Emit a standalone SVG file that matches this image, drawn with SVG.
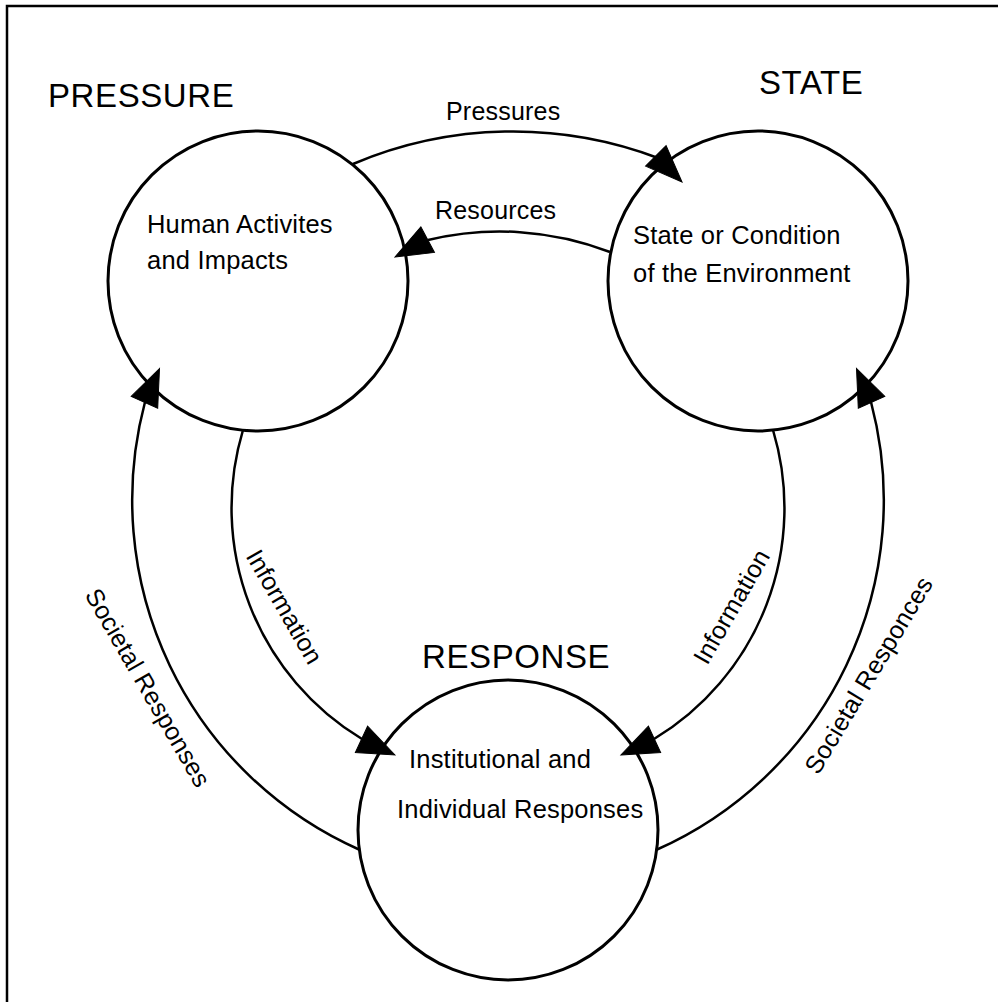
<svg xmlns="http://www.w3.org/2000/svg" xmlns:xlink="http://www.w3.org/1999/xlink" width="998" height="1002" viewBox="0 0 998 1002">
<style>
.node{fill:#fff;stroke:#000;stroke-width:3}
.conn{fill:none;stroke:#000;stroke-width:2.5}
.head{fill:#000;stroke:#000;stroke-width:1}
.title{font-family:"Liberation Sans",Arial,Helvetica,sans-serif;font-size:33px;letter-spacing:0.6px;fill:#000}
.lbl{font-family:"Liberation Sans",Arial,Helvetica,sans-serif;font-size:25px;letter-spacing:0.2px;fill:#000}
.body{font-family:"Liberation Sans",Arial,Helvetica,sans-serif;font-size:25.5px;letter-spacing:0.2px;fill:#000}
</style>
<defs>
<path id="ah" class="head" d="M0,0 L-37,-14.5 L-37,14.5 Z"/>
</defs>
<rect x="0" y="0" width="998" height="1002" fill="#fff"/>
<path d="M7,1002 V6 H998" fill="none" stroke="#000" stroke-width="2.5"/>

<g id="pressure">
<circle class="node" cx="258" cy="281" r="150"/>
<text class="title" x="48" y="107">PRESSURE</text>
<text class="body" x="147" y="233">Human Activites</text>
<text class="body" x="147" y="269">and Impacts</text>
</g>

<g id="state">
<circle class="node" cx="758" cy="281" r="150"/>
<text class="title" x="759" y="94">STATE</text>
<text class="body" x="633" y="244">State or Condition</text>
<text class="body" x="633" y="282">of the Environment</text>
</g>

<g id="response">
<circle class="node" cx="508" cy="830" r="150"/>
<text class="title" x="422" y="668">RESPONSE</text>
<text class="body" x="409" y="768">Institutional and</text>
<text class="body" x="397" y="818">Individual Responses</text>
</g>

<g id="connectors">
<path class="conn" d="M353,164 A410,410 0 0 1 658,158"/>
<use xlink:href="#ah" transform="translate(682,182) rotate(45)"/>
<text class="lbl" x="446" y="120">Pressures</text>

<path class="conn" d="M610,252 A307,307 0 0 0 428,240"/>
<use xlink:href="#ah" transform="translate(395,257) rotate(152)"/>
<text class="lbl" x="435" y="219">Resources</text>

<path class="conn" d="M360,850 A382.5,382.5 0 0 1 145,402"/>
<use xlink:href="#ah" transform="translate(159.5,368.5) rotate(-66)"/>
<text class="lbl" text-anchor="middle" transform="translate(140.5,692) rotate(60)">Societal Responses</text>

<path class="conn" d="M656,850 A382.5,382.5 0 0 0 871,402"/>
<use xlink:href="#ah" transform="translate(856.5,368.5) rotate(-114)"/>
<text class="lbl" text-anchor="middle" transform="translate(876,679.5) rotate(-59)">Societal Responces</text>

<path class="conn" d="M243,430 A270,270 0 0 0 362,739"/>
<use xlink:href="#ah" transform="translate(395,755) rotate(25)"/>
<text class="lbl" text-anchor="middle" transform="translate(277,611) rotate(60)">Information</text>

<path class="conn" d="M773,430 A270,270 0 0 1 654,739"/>
<use xlink:href="#ah" transform="translate(621,755) rotate(155)"/>
<text class="lbl" text-anchor="middle" transform="translate(739,611) rotate(-60)">Information</text>
</g>
</svg>
